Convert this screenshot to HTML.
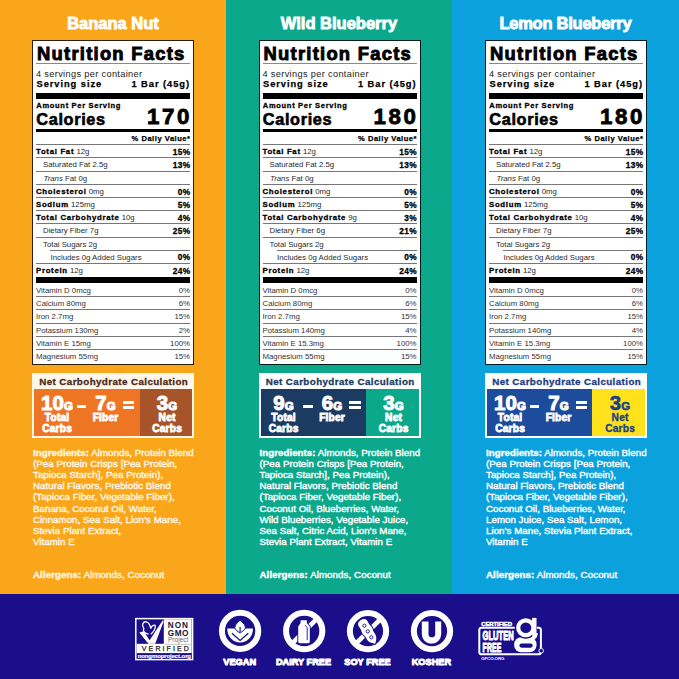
<!DOCTYPE html>
<html><head><meta charset="utf-8"><style>
html,body{margin:0;padding:0;width:679px;height:679px;overflow:hidden;background:#1B0E8B;}
body{position:relative;font-family:"Liberation Sans",sans-serif;}
.t{position:absolute;line-height:1em;white-space:pre;}
.r{position:absolute;}
b{font-weight:700;}
</style></head><body>
<div class=r style='left:0.00px;top:0.00px;width:226.00px;height:594.00px;background:#FAA61A;'></div><div class=r style='left:226.00px;top:0.00px;width:226.00px;height:594.00px;background:#0BA88C;'></div><div class=r style='left:452.00px;top:0.00px;width:227.00px;height:594.00px;background:#0AA1DD;'></div><div class=t style='top:15.03px;font-size:16.5px;font-weight:700;color:#FFFFFF;-webkit-text-stroke:0.9px #FFFFFF;left:-187.00px;width:600px;text-align:center;'>Banana Nut</div><div class=r style='left:32.00px;top:40.2px;width:160px;height:322.4px;background:#fff;background-clip:padding-box;border:1.2px solid rgba(0,0,0,0.82);'></div><div class=t style='top:44.62px;font-size:18.4px;font-weight:700;color:#000;letter-spacing:1.25px;-webkit-text-stroke:0.9px #000;left:37.00px;'>Nutrition Facts</div><div class=r style='left:36.00px;top:63.00px;width:154.00px;height:1.00px;background:#888;'></div><div class=t style='top:69.51px;font-size:9.2px;font-weight:400;color:#222;letter-spacing:0.35px;left:36.00px;'>4 servings per container</div><div class=t style='top:80.33px;font-size:9.3px;font-weight:700;color:#000;letter-spacing:0.95px;-webkit-text-stroke:0.25px #000;left:36.50px;'>Serving size</div><div class=t style='top:80.33px;font-size:9.3px;font-weight:700;color:#000;letter-spacing:0.95px;-webkit-text-stroke:0.25px #000;right:489.05px;text-align:right;'>1 Bar (45g)</div><div class=r style='left:36.00px;top:92.70px;width:154.00px;height:6.10px;background:#000;'></div><div class=t style='top:101.95px;font-size:7.5px;font-weight:700;color:#000;letter-spacing:0.7px;-webkit-text-stroke:0.3px #000;left:36.30px;'>Amount Per Serving</div><div class=t style='top:110.60px;font-size:16.3px;font-weight:700;color:#000;letter-spacing:0.65px;-webkit-text-stroke:0.6px #000;left:36.30px;'>Calories</div><div class=t style='top:105.92px;font-size:22.3px;font-weight:700;color:#000;letter-spacing:2.6px;-webkit-text-stroke:0.8px #000;right:486.90px;text-align:right;'>170</div><div class=r style='left:36.00px;top:129.00px;width:154.00px;height:2.50px;background:#000;'></div><div class=t style='top:135.05px;font-size:7.5px;font-weight:700;color:#000;letter-spacing:0.55px;-webkit-text-stroke:0.25px #000;right:488.45px;text-align:right;'>% Daily Value*</div><div class=r style='left:36.00px;top:144.20px;width:154.00px;height:1.00px;background:#777;'></div><div class=r style='left:36.00px;top:157.20px;width:154.00px;height:1.00px;background:#777;'></div><div class=r style='left:36.00px;top:171.00px;width:154.00px;height:1.00px;background:#777;'></div><div class=r style='left:36.00px;top:184.00px;width:154.00px;height:1.00px;background:#777;'></div><div class=r style='left:36.00px;top:197.20px;width:154.00px;height:1.00px;background:#777;'></div><div class=r style='left:36.00px;top:210.20px;width:154.00px;height:1.00px;background:#777;'></div><div class=r style='left:36.00px;top:223.00px;width:154.00px;height:1.00px;background:#777;'></div><div class=r style='left:36.00px;top:236.70px;width:154.00px;height:1.00px;background:#777;'></div><div class=r style='left:50.00px;top:249.60px;width:140.00px;height:1.00px;background:#777;'></div><div class=r style='left:36.00px;top:262.80px;width:154.00px;height:1.00px;background:#777;'></div><div class=r style='left:36.00px;top:276.90px;width:154.00px;height:5.80px;background:#000;'></div><div class=r style='left:36.00px;top:296.00px;width:154.00px;height:1.00px;background:#777;'></div><div class=r style='left:36.00px;top:308.70px;width:154.00px;height:1.00px;background:#777;'></div><div class=r style='left:36.00px;top:323.10px;width:154.00px;height:1.00px;background:#777;'></div><div class=r style='left:36.00px;top:335.80px;width:154.00px;height:1.00px;background:#777;'></div><div class=r style='left:36.00px;top:348.80px;width:154.00px;height:1.00px;background:#777;'></div><div class=t style='top:148.40px;font-size:7.8px;font-weight:400;color:#2a2a2a;left:36.00px;'><b style='letter-spacing:0.7px;-webkit-text-stroke:0.3px #000;color:#000'>Total Fat</b> 12g</div><div class=t style='top:147.97px;font-size:8.3px;font-weight:700;color:#000;letter-spacing:0.3px;-webkit-text-stroke:0.3px #000;right:488.70px;text-align:right;'>15%</div><div class=t style='top:161.40px;font-size:7.8px;font-weight:400;color:#2a2a2a;left:43.00px;'>Saturated Fat 2.5g</div><div class=t style='top:160.97px;font-size:8.3px;font-weight:700;color:#000;letter-spacing:0.3px;-webkit-text-stroke:0.3px #000;right:488.70px;text-align:right;'>13%</div><div class=t style='top:175.20px;font-size:7.8px;font-weight:400;color:#2a2a2a;left:43.50px;'><i>Trans</i> Fat 0g</div><div class=t style='top:188.20px;font-size:7.8px;font-weight:400;color:#2a2a2a;left:36.00px;'><b style='letter-spacing:0.7px;-webkit-text-stroke:0.3px #000;color:#000'>Cholesterol</b> 0mg</div><div class=t style='top:187.77px;font-size:8.3px;font-weight:700;color:#000;letter-spacing:0.3px;-webkit-text-stroke:0.3px #000;right:488.70px;text-align:right;'>0%</div><div class=t style='top:201.40px;font-size:7.8px;font-weight:400;color:#2a2a2a;left:36.00px;'><b style='letter-spacing:0.7px;-webkit-text-stroke:0.3px #000;color:#000'>Sodium</b> 125mg</div><div class=t style='top:200.97px;font-size:8.3px;font-weight:700;color:#000;letter-spacing:0.3px;-webkit-text-stroke:0.3px #000;right:488.70px;text-align:right;'>5%</div><div class=t style='top:214.40px;font-size:7.8px;font-weight:400;color:#2a2a2a;left:36.00px;'><b style='letter-spacing:0.7px;-webkit-text-stroke:0.3px #000;color:#000'>Total Carbohydrate</b> 10g</div><div class=t style='top:213.97px;font-size:8.3px;font-weight:700;color:#000;letter-spacing:0.3px;-webkit-text-stroke:0.3px #000;right:488.70px;text-align:right;'>4%</div><div class=t style='top:227.20px;font-size:7.8px;font-weight:400;color:#2a2a2a;left:43.00px;'>Dietary Fiber 7g</div><div class=t style='top:226.77px;font-size:8.3px;font-weight:700;color:#000;letter-spacing:0.3px;-webkit-text-stroke:0.3px #000;right:488.70px;text-align:right;'>25%</div><div class=t style='top:240.90px;font-size:7.8px;font-weight:400;color:#2a2a2a;left:43.00px;'>Total Sugars 2g</div><div class=t style='top:253.80px;font-size:7.8px;font-weight:400;color:#2a2a2a;left:50.50px;'>Includes 0g Added Sugars</div><div class=t style='top:253.37px;font-size:8.3px;font-weight:700;color:#000;letter-spacing:0.3px;-webkit-text-stroke:0.3px #000;right:488.70px;text-align:right;'>0%</div><div class=t style='top:267.00px;font-size:7.8px;font-weight:400;color:#2a2a2a;left:36.00px;'><b style='letter-spacing:0.7px;-webkit-text-stroke:0.3px #000;color:#000'>Protein</b> 12g</div><div class=t style='top:266.57px;font-size:8.3px;font-weight:700;color:#000;letter-spacing:0.3px;-webkit-text-stroke:0.3px #000;right:488.70px;text-align:right;'>24%</div><div class=t style='top:286.60px;font-size:7.8px;font-weight:400;color:#333;left:36.00px;'>Vitamin D 0mcg</div><div class=t style='top:286.60px;font-size:7.8px;font-weight:400;color:#333;right:489.00px;text-align:right;'>0%</div><div class=t style='top:299.90px;font-size:7.8px;font-weight:400;color:#333;left:36.00px;'>Calcium 80mg</div><div class=t style='top:299.90px;font-size:7.8px;font-weight:400;color:#333;right:489.00px;text-align:right;'>6%</div><div class=t style='top:312.60px;font-size:7.8px;font-weight:400;color:#333;left:36.00px;'>Iron 2.7mg</div><div class=t style='top:312.60px;font-size:7.8px;font-weight:400;color:#333;right:489.00px;text-align:right;'>15%</div><div class=t style='top:327.00px;font-size:7.8px;font-weight:400;color:#333;left:36.00px;'>Potassium 130mg</div><div class=t style='top:327.00px;font-size:7.8px;font-weight:400;color:#333;right:489.00px;text-align:right;'>2%</div><div class=t style='top:339.70px;font-size:7.8px;font-weight:400;color:#333;left:36.00px;'>Vitamin E 15mg</div><div class=t style='top:339.70px;font-size:7.8px;font-weight:400;color:#333;right:489.00px;text-align:right;'>100%</div><div class=t style='top:352.70px;font-size:7.8px;font-weight:400;color:#333;left:36.00px;'>Magnesium 55mg</div><div class=t style='top:352.70px;font-size:7.8px;font-weight:400;color:#333;right:489.00px;text-align:right;'>15%</div><div class=r style='left:32.00px;top:372.80px;width:162.00px;height:65.60px;background:#FFF7EA;'></div><div class=r style='left:34.10px;top:389.00px;width:158.30px;height:47.20px;background:#EE7524;'></div><div class=r style='left:140.00px;top:389.00px;width:52.40px;height:47.20px;background:#A7542A;'></div><div class=t style='top:376.90px;font-size:9.8px;font-weight:700;color:#4B2A1C;letter-spacing:0.4px;-webkit-text-stroke:0.3px #4B2A1C;left:-186.50px;width:600px;text-align:center;text-indent:0.4px;'>Net Carbohydrate Calculation</div><div class=t style='top:392.65px;font-size:20.5px;font-weight:700;color:#fff;-webkit-text-stroke:1.0px #fff;left:-243.00px;width:600px;text-align:center;'>10<span style='font-size:11.5px'>G</span></div><div class=t style='top:392.65px;font-size:20.5px;font-weight:700;color:#fff;-webkit-text-stroke:1.0px #fff;left:-194.50px;width:600px;text-align:center;'>7<span style='font-size:11.5px'>G</span></div><div class=r style='left:76.50px;top:404.90px;width:9.80px;height:2.80px;background:#fff;'></div><div class=r style='left:122.50px;top:401.20px;width:11.50px;height:3.00px;background:#fff;'></div><div class=r style='left:122.50px;top:406.40px;width:11.50px;height:3.00px;background:#fff;'></div><div class=t style='top:392.65px;font-size:20.5px;font-weight:700;color:#FFFFFF;-webkit-text-stroke:1.0px #FFFFFF;left:-133.00px;width:600px;text-align:center;'>3<span style='font-size:11.5px'>G</span></div><div class=t style='top:412.97px;font-size:10.2px;font-weight:700;color:#fff;letter-spacing:0.2px;-webkit-text-stroke:0.8px #fff;left:-243.00px;width:600px;text-align:center;text-indent:0.2px;'>Total</div><div class=t style='top:423.57px;font-size:10.2px;font-weight:700;color:#fff;letter-spacing:0.2px;-webkit-text-stroke:0.8px #fff;left:-243.00px;width:600px;text-align:center;text-indent:0.2px;'>Carbs</div><div class=t style='top:412.97px;font-size:10.2px;font-weight:700;color:#fff;letter-spacing:0.2px;-webkit-text-stroke:0.8px #fff;left:-194.50px;width:600px;text-align:center;text-indent:0.2px;'>Fiber</div><div class=t style='top:412.97px;font-size:10.2px;font-weight:700;color:#FFFFFF;letter-spacing:0.2px;-webkit-text-stroke:0.8px #FFFFFF;left:-133.00px;width:600px;text-align:center;text-indent:0.2px;'>Net</div><div class=t style='top:423.57px;font-size:10.2px;font-weight:700;color:#FFFFFF;letter-spacing:0.2px;-webkit-text-stroke:0.8px #FFFFFF;left:-133.00px;width:600px;text-align:center;text-indent:0.2px;'>Carbs</div><div class=t style='top:447.79px;font-size:9.7px;font-weight:400;color:#FFF6E4;letter-spacing:0.05px;-webkit-text-stroke:0.4px #FFF6E4;left:33.00px;'><b>Ingredients:</b> Almonds, Protein Blend</div><div class=t style='top:458.96px;font-size:9.7px;font-weight:400;color:#FFF6E4;letter-spacing:0.05px;-webkit-text-stroke:0.4px #FFF6E4;left:33.00px;'>(Pea Protein Crisps [Pea Protein,</div><div class=t style='top:470.13px;font-size:9.7px;font-weight:400;color:#FFF6E4;letter-spacing:0.05px;-webkit-text-stroke:0.4px #FFF6E4;left:33.00px;'>Tapioca Starch], Pea Protein),</div><div class=t style='top:481.30px;font-size:9.7px;font-weight:400;color:#FFF6E4;letter-spacing:0.05px;-webkit-text-stroke:0.4px #FFF6E4;left:33.00px;'>Natural Flavors, Prebiotic Blend</div><div class=t style='top:492.47px;font-size:9.7px;font-weight:400;color:#FFF6E4;letter-spacing:0.05px;-webkit-text-stroke:0.4px #FFF6E4;left:33.00px;'>(Tapioca Fiber, Vegetable Fiber),</div><div class=t style='top:503.64px;font-size:9.7px;font-weight:400;color:#FFF6E4;letter-spacing:0.05px;-webkit-text-stroke:0.4px #FFF6E4;left:33.00px;'>Banana, Coconut Oil, Water,</div><div class=t style='top:514.81px;font-size:9.7px;font-weight:400;color:#FFF6E4;letter-spacing:0.05px;-webkit-text-stroke:0.4px #FFF6E4;left:33.00px;'>Cinnamon, Sea Salt, Lion’s Mane,</div><div class=t style='top:525.98px;font-size:9.7px;font-weight:400;color:#FFF6E4;letter-spacing:0.05px;-webkit-text-stroke:0.4px #FFF6E4;left:33.00px;'>Stevia Plant Extract,</div><div class=t style='top:537.15px;font-size:9.7px;font-weight:400;color:#FFF6E4;letter-spacing:0.05px;-webkit-text-stroke:0.4px #FFF6E4;left:33.00px;'>Vitamin E</div><div class=t style='top:570.29px;font-size:9.7px;font-weight:400;color:#FFF6E4;letter-spacing:0.1px;-webkit-text-stroke:0.4px #FFF6E4;left:33.00px;'><b>Allergens:</b> Almonds, Coconut</div><div class=t style='top:15.03px;font-size:16.5px;font-weight:700;color:#FFFFFF;-webkit-text-stroke:0.9px #FFFFFF;left:39.00px;width:600px;text-align:center;'>Wild Blueberry</div><div class=r style='left:258.50px;top:40.2px;width:160px;height:322.4px;background:#fff;background-clip:padding-box;border:1.2px solid rgba(0,0,0,0.82);'></div><div class=t style='top:44.62px;font-size:18.4px;font-weight:700;color:#000;letter-spacing:1.25px;-webkit-text-stroke:0.9px #000;left:263.50px;'>Nutrition Facts</div><div class=r style='left:262.50px;top:63.00px;width:154.00px;height:1.00px;background:#888;'></div><div class=t style='top:69.51px;font-size:9.2px;font-weight:400;color:#222;letter-spacing:0.35px;left:262.50px;'>4 servings per container</div><div class=t style='top:80.33px;font-size:9.3px;font-weight:700;color:#000;letter-spacing:0.95px;-webkit-text-stroke:0.25px #000;left:263.00px;'>Serving size</div><div class=t style='top:80.33px;font-size:9.3px;font-weight:700;color:#000;letter-spacing:0.95px;-webkit-text-stroke:0.25px #000;right:262.55px;text-align:right;'>1 Bar (45g)</div><div class=r style='left:262.50px;top:92.70px;width:154.00px;height:6.10px;background:#000;'></div><div class=t style='top:101.95px;font-size:7.5px;font-weight:700;color:#000;letter-spacing:0.7px;-webkit-text-stroke:0.3px #000;left:262.80px;'>Amount Per Serving</div><div class=t style='top:110.60px;font-size:16.3px;font-weight:700;color:#000;letter-spacing:0.65px;-webkit-text-stroke:0.6px #000;left:262.80px;'>Calories</div><div class=t style='top:105.92px;font-size:22.3px;font-weight:700;color:#000;letter-spacing:2.6px;-webkit-text-stroke:0.8px #000;right:260.40px;text-align:right;'>180</div><div class=r style='left:262.50px;top:129.00px;width:154.00px;height:2.50px;background:#000;'></div><div class=t style='top:135.05px;font-size:7.5px;font-weight:700;color:#000;letter-spacing:0.55px;-webkit-text-stroke:0.25px #000;right:261.95px;text-align:right;'>% Daily Value*</div><div class=r style='left:262.50px;top:144.20px;width:154.00px;height:1.00px;background:#777;'></div><div class=r style='left:262.50px;top:157.20px;width:154.00px;height:1.00px;background:#777;'></div><div class=r style='left:262.50px;top:171.00px;width:154.00px;height:1.00px;background:#777;'></div><div class=r style='left:262.50px;top:184.00px;width:154.00px;height:1.00px;background:#777;'></div><div class=r style='left:262.50px;top:197.20px;width:154.00px;height:1.00px;background:#777;'></div><div class=r style='left:262.50px;top:210.20px;width:154.00px;height:1.00px;background:#777;'></div><div class=r style='left:262.50px;top:223.00px;width:154.00px;height:1.00px;background:#777;'></div><div class=r style='left:262.50px;top:236.70px;width:154.00px;height:1.00px;background:#777;'></div><div class=r style='left:276.50px;top:249.60px;width:140.00px;height:1.00px;background:#777;'></div><div class=r style='left:262.50px;top:262.80px;width:154.00px;height:1.00px;background:#777;'></div><div class=r style='left:262.50px;top:276.90px;width:154.00px;height:5.80px;background:#000;'></div><div class=r style='left:262.50px;top:296.00px;width:154.00px;height:1.00px;background:#777;'></div><div class=r style='left:262.50px;top:308.70px;width:154.00px;height:1.00px;background:#777;'></div><div class=r style='left:262.50px;top:323.10px;width:154.00px;height:1.00px;background:#777;'></div><div class=r style='left:262.50px;top:335.80px;width:154.00px;height:1.00px;background:#777;'></div><div class=r style='left:262.50px;top:348.80px;width:154.00px;height:1.00px;background:#777;'></div><div class=t style='top:148.40px;font-size:7.8px;font-weight:400;color:#2a2a2a;left:262.50px;'><b style='letter-spacing:0.7px;-webkit-text-stroke:0.3px #000;color:#000'>Total Fat</b> 12g</div><div class=t style='top:147.97px;font-size:8.3px;font-weight:700;color:#000;letter-spacing:0.3px;-webkit-text-stroke:0.3px #000;right:262.20px;text-align:right;'>15%</div><div class=t style='top:161.40px;font-size:7.8px;font-weight:400;color:#2a2a2a;left:269.50px;'>Saturated Fat 2.5g</div><div class=t style='top:160.97px;font-size:8.3px;font-weight:700;color:#000;letter-spacing:0.3px;-webkit-text-stroke:0.3px #000;right:262.20px;text-align:right;'>13%</div><div class=t style='top:175.20px;font-size:7.8px;font-weight:400;color:#2a2a2a;left:270.00px;'><i>Trans</i> Fat 0g</div><div class=t style='top:188.20px;font-size:7.8px;font-weight:400;color:#2a2a2a;left:262.50px;'><b style='letter-spacing:0.7px;-webkit-text-stroke:0.3px #000;color:#000'>Cholesterol</b> 0mg</div><div class=t style='top:187.77px;font-size:8.3px;font-weight:700;color:#000;letter-spacing:0.3px;-webkit-text-stroke:0.3px #000;right:262.20px;text-align:right;'>0%</div><div class=t style='top:201.40px;font-size:7.8px;font-weight:400;color:#2a2a2a;left:262.50px;'><b style='letter-spacing:0.7px;-webkit-text-stroke:0.3px #000;color:#000'>Sodium</b> 125mg</div><div class=t style='top:200.97px;font-size:8.3px;font-weight:700;color:#000;letter-spacing:0.3px;-webkit-text-stroke:0.3px #000;right:262.20px;text-align:right;'>5%</div><div class=t style='top:214.40px;font-size:7.8px;font-weight:400;color:#2a2a2a;left:262.50px;'><b style='letter-spacing:0.7px;-webkit-text-stroke:0.3px #000;color:#000'>Total Carbohydrate</b> 9g</div><div class=t style='top:213.97px;font-size:8.3px;font-weight:700;color:#000;letter-spacing:0.3px;-webkit-text-stroke:0.3px #000;right:262.20px;text-align:right;'>3%</div><div class=t style='top:227.20px;font-size:7.8px;font-weight:400;color:#2a2a2a;left:269.50px;'>Dietary Fiber 6g</div><div class=t style='top:226.77px;font-size:8.3px;font-weight:700;color:#000;letter-spacing:0.3px;-webkit-text-stroke:0.3px #000;right:262.20px;text-align:right;'>21%</div><div class=t style='top:240.90px;font-size:7.8px;font-weight:400;color:#2a2a2a;left:269.50px;'>Total Sugars 2g</div><div class=t style='top:253.80px;font-size:7.8px;font-weight:400;color:#2a2a2a;left:277.00px;'>Includes 0g Added Sugars</div><div class=t style='top:253.37px;font-size:8.3px;font-weight:700;color:#000;letter-spacing:0.3px;-webkit-text-stroke:0.3px #000;right:262.20px;text-align:right;'>0%</div><div class=t style='top:267.00px;font-size:7.8px;font-weight:400;color:#2a2a2a;left:262.50px;'><b style='letter-spacing:0.7px;-webkit-text-stroke:0.3px #000;color:#000'>Protein</b> 12g</div><div class=t style='top:266.57px;font-size:8.3px;font-weight:700;color:#000;letter-spacing:0.3px;-webkit-text-stroke:0.3px #000;right:262.20px;text-align:right;'>24%</div><div class=t style='top:286.60px;font-size:7.8px;font-weight:400;color:#333;left:262.50px;'>Vitamin D 0mcg</div><div class=t style='top:286.60px;font-size:7.8px;font-weight:400;color:#333;right:262.50px;text-align:right;'>0%</div><div class=t style='top:299.90px;font-size:7.8px;font-weight:400;color:#333;left:262.50px;'>Calcium 80mg</div><div class=t style='top:299.90px;font-size:7.8px;font-weight:400;color:#333;right:262.50px;text-align:right;'>6%</div><div class=t style='top:312.60px;font-size:7.8px;font-weight:400;color:#333;left:262.50px;'>Iron 2.7mg</div><div class=t style='top:312.60px;font-size:7.8px;font-weight:400;color:#333;right:262.50px;text-align:right;'>15%</div><div class=t style='top:327.00px;font-size:7.8px;font-weight:400;color:#333;left:262.50px;'>Potassium 140mg</div><div class=t style='top:327.00px;font-size:7.8px;font-weight:400;color:#333;right:262.50px;text-align:right;'>4%</div><div class=t style='top:339.70px;font-size:7.8px;font-weight:400;color:#333;left:262.50px;'>Vitamin E 15.3mg</div><div class=t style='top:339.70px;font-size:7.8px;font-weight:400;color:#333;right:262.50px;text-align:right;'>100%</div><div class=t style='top:352.70px;font-size:7.8px;font-weight:400;color:#333;left:262.50px;'>Magnesium 55mg</div><div class=t style='top:352.70px;font-size:7.8px;font-weight:400;color:#333;right:262.50px;text-align:right;'>15%</div><div class=r style='left:258.50px;top:372.80px;width:162.00px;height:65.60px;background:#FFFFFF;'></div><div class=r style='left:260.60px;top:389.00px;width:158.30px;height:47.20px;background:#1C3B62;'></div><div class=r style='left:366.40px;top:389.00px;width:52.50px;height:47.20px;background:#0BA88C;'></div><div class=t style='top:376.90px;font-size:9.8px;font-weight:700;color:#1C3B62;letter-spacing:0.4px;-webkit-text-stroke:0.3px #1C3B62;left:40.00px;width:600px;text-align:center;text-indent:0.4px;'>Net Carbohydrate Calculation</div><div class=t style='top:392.65px;font-size:20.5px;font-weight:700;color:#fff;-webkit-text-stroke:1.0px #fff;left:-16.50px;width:600px;text-align:center;'>9<span style='font-size:11.5px'>G</span></div><div class=t style='top:392.65px;font-size:20.5px;font-weight:700;color:#fff;-webkit-text-stroke:1.0px #fff;left:32.00px;width:600px;text-align:center;'>6<span style='font-size:11.5px'>G</span></div><div class=r style='left:303.00px;top:404.90px;width:9.80px;height:2.80px;background:#fff;'></div><div class=r style='left:349.00px;top:401.20px;width:11.50px;height:3.00px;background:#fff;'></div><div class=r style='left:349.00px;top:406.40px;width:11.50px;height:3.00px;background:#fff;'></div><div class=t style='top:392.65px;font-size:20.5px;font-weight:700;color:#FFFFFF;-webkit-text-stroke:1.0px #FFFFFF;left:93.50px;width:600px;text-align:center;'>3<span style='font-size:11.5px'>G</span></div><div class=t style='top:412.97px;font-size:10.2px;font-weight:700;color:#fff;letter-spacing:0.2px;-webkit-text-stroke:0.8px #fff;left:-16.50px;width:600px;text-align:center;text-indent:0.2px;'>Total</div><div class=t style='top:423.57px;font-size:10.2px;font-weight:700;color:#fff;letter-spacing:0.2px;-webkit-text-stroke:0.8px #fff;left:-16.50px;width:600px;text-align:center;text-indent:0.2px;'>Carbs</div><div class=t style='top:412.97px;font-size:10.2px;font-weight:700;color:#fff;letter-spacing:0.2px;-webkit-text-stroke:0.8px #fff;left:32.00px;width:600px;text-align:center;text-indent:0.2px;'>Fiber</div><div class=t style='top:412.97px;font-size:10.2px;font-weight:700;color:#FFFFFF;letter-spacing:0.2px;-webkit-text-stroke:0.8px #FFFFFF;left:93.50px;width:600px;text-align:center;text-indent:0.2px;'>Net</div><div class=t style='top:423.57px;font-size:10.2px;font-weight:700;color:#FFFFFF;letter-spacing:0.2px;-webkit-text-stroke:0.8px #FFFFFF;left:93.50px;width:600px;text-align:center;text-indent:0.2px;'>Carbs</div><div class=t style='top:447.79px;font-size:9.7px;font-weight:400;color:#FFFFFF;letter-spacing:0.05px;-webkit-text-stroke:0.4px #FFFFFF;left:259.50px;'><b>Ingredients:</b> Almonds, Protein Blend</div><div class=t style='top:458.96px;font-size:9.7px;font-weight:400;color:#FFFFFF;letter-spacing:0.05px;-webkit-text-stroke:0.4px #FFFFFF;left:259.50px;'>(Pea Protein Crisps [Pea Protein,</div><div class=t style='top:470.13px;font-size:9.7px;font-weight:400;color:#FFFFFF;letter-spacing:0.05px;-webkit-text-stroke:0.4px #FFFFFF;left:259.50px;'>Tapioca Starch], Pea Protein),</div><div class=t style='top:481.30px;font-size:9.7px;font-weight:400;color:#FFFFFF;letter-spacing:0.05px;-webkit-text-stroke:0.4px #FFFFFF;left:259.50px;'>Natural Flavors, Prebiotic Blend</div><div class=t style='top:492.47px;font-size:9.7px;font-weight:400;color:#FFFFFF;letter-spacing:0.05px;-webkit-text-stroke:0.4px #FFFFFF;left:259.50px;'>(Tapioca Fiber, Vegetable Fiber),</div><div class=t style='top:503.64px;font-size:9.7px;font-weight:400;color:#FFFFFF;letter-spacing:0.05px;-webkit-text-stroke:0.4px #FFFFFF;left:259.50px;'>Coconut Oil, Blueberries, Water,</div><div class=t style='top:514.81px;font-size:9.7px;font-weight:400;color:#FFFFFF;letter-spacing:0.05px;-webkit-text-stroke:0.4px #FFFFFF;left:259.50px;'>Wild Blueberries, Vegetable Juice,</div><div class=t style='top:525.98px;font-size:9.7px;font-weight:400;color:#FFFFFF;letter-spacing:0.05px;-webkit-text-stroke:0.4px #FFFFFF;left:259.50px;'>Sea Salt, Citric Acid, Lion’s Mane,</div><div class=t style='top:537.15px;font-size:9.7px;font-weight:400;color:#FFFFFF;letter-spacing:0.05px;-webkit-text-stroke:0.4px #FFFFFF;left:259.50px;'>Stevia Plant Extract, Vitamin E</div><div class=t style='top:570.29px;font-size:9.7px;font-weight:400;color:#FFFFFF;letter-spacing:0.1px;-webkit-text-stroke:0.4px #FFFFFF;left:259.50px;'><b>Allergens:</b> Almonds, Coconut</div><div class=t style='top:15.03px;font-size:16.5px;font-weight:700;color:#FFFFFF;letter-spacing:-0.25px;-webkit-text-stroke:0.9px #FFFFFF;left:265.50px;width:600px;text-align:center;text-indent:-0.25px;'>Lemon Blueberry</div><div class=r style='left:485.00px;top:40.2px;width:160px;height:322.4px;background:#fff;background-clip:padding-box;border:1.2px solid rgba(0,0,0,0.82);'></div><div class=t style='top:44.62px;font-size:18.4px;font-weight:700;color:#000;letter-spacing:1.25px;-webkit-text-stroke:0.9px #000;left:490.00px;'>Nutrition Facts</div><div class=r style='left:489.00px;top:63.00px;width:154.00px;height:1.00px;background:#888;'></div><div class=t style='top:69.51px;font-size:9.2px;font-weight:400;color:#222;letter-spacing:0.35px;left:489.00px;'>4 servings per container</div><div class=t style='top:80.33px;font-size:9.3px;font-weight:700;color:#000;letter-spacing:0.95px;-webkit-text-stroke:0.25px #000;left:489.50px;'>Serving size</div><div class=t style='top:80.33px;font-size:9.3px;font-weight:700;color:#000;letter-spacing:0.95px;-webkit-text-stroke:0.25px #000;right:36.05px;text-align:right;'>1 Bar (45g)</div><div class=r style='left:489.00px;top:92.70px;width:154.00px;height:6.10px;background:#000;'></div><div class=t style='top:101.95px;font-size:7.5px;font-weight:700;color:#000;letter-spacing:0.7px;-webkit-text-stroke:0.3px #000;left:489.30px;'>Amount Per Serving</div><div class=t style='top:110.60px;font-size:16.3px;font-weight:700;color:#000;letter-spacing:0.65px;-webkit-text-stroke:0.6px #000;left:489.30px;'>Calories</div><div class=t style='top:105.92px;font-size:22.3px;font-weight:700;color:#000;letter-spacing:2.6px;-webkit-text-stroke:0.8px #000;right:33.90px;text-align:right;'>180</div><div class=r style='left:489.00px;top:129.00px;width:154.00px;height:2.50px;background:#000;'></div><div class=t style='top:135.05px;font-size:7.5px;font-weight:700;color:#000;letter-spacing:0.55px;-webkit-text-stroke:0.25px #000;right:35.45px;text-align:right;'>% Daily Value*</div><div class=r style='left:489.00px;top:144.20px;width:154.00px;height:1.00px;background:#777;'></div><div class=r style='left:489.00px;top:157.20px;width:154.00px;height:1.00px;background:#777;'></div><div class=r style='left:489.00px;top:171.00px;width:154.00px;height:1.00px;background:#777;'></div><div class=r style='left:489.00px;top:184.00px;width:154.00px;height:1.00px;background:#777;'></div><div class=r style='left:489.00px;top:197.20px;width:154.00px;height:1.00px;background:#777;'></div><div class=r style='left:489.00px;top:210.20px;width:154.00px;height:1.00px;background:#777;'></div><div class=r style='left:489.00px;top:223.00px;width:154.00px;height:1.00px;background:#777;'></div><div class=r style='left:489.00px;top:236.70px;width:154.00px;height:1.00px;background:#777;'></div><div class=r style='left:503.00px;top:249.60px;width:140.00px;height:1.00px;background:#777;'></div><div class=r style='left:489.00px;top:262.80px;width:154.00px;height:1.00px;background:#777;'></div><div class=r style='left:489.00px;top:276.90px;width:154.00px;height:5.80px;background:#000;'></div><div class=r style='left:489.00px;top:296.00px;width:154.00px;height:1.00px;background:#777;'></div><div class=r style='left:489.00px;top:308.70px;width:154.00px;height:1.00px;background:#777;'></div><div class=r style='left:489.00px;top:323.10px;width:154.00px;height:1.00px;background:#777;'></div><div class=r style='left:489.00px;top:335.80px;width:154.00px;height:1.00px;background:#777;'></div><div class=r style='left:489.00px;top:348.80px;width:154.00px;height:1.00px;background:#777;'></div><div class=t style='top:148.40px;font-size:7.8px;font-weight:400;color:#2a2a2a;left:489.00px;'><b style='letter-spacing:0.7px;-webkit-text-stroke:0.3px #000;color:#000'>Total Fat</b> 12g</div><div class=t style='top:147.97px;font-size:8.3px;font-weight:700;color:#000;letter-spacing:0.3px;-webkit-text-stroke:0.3px #000;right:35.70px;text-align:right;'>15%</div><div class=t style='top:161.40px;font-size:7.8px;font-weight:400;color:#2a2a2a;left:496.00px;'>Saturated Fat 2.5g</div><div class=t style='top:160.97px;font-size:8.3px;font-weight:700;color:#000;letter-spacing:0.3px;-webkit-text-stroke:0.3px #000;right:35.70px;text-align:right;'>13%</div><div class=t style='top:175.20px;font-size:7.8px;font-weight:400;color:#2a2a2a;left:496.50px;'><i>Trans</i> Fat 0g</div><div class=t style='top:188.20px;font-size:7.8px;font-weight:400;color:#2a2a2a;left:489.00px;'><b style='letter-spacing:0.7px;-webkit-text-stroke:0.3px #000;color:#000'>Cholesterol</b> 0mg</div><div class=t style='top:187.77px;font-size:8.3px;font-weight:700;color:#000;letter-spacing:0.3px;-webkit-text-stroke:0.3px #000;right:35.70px;text-align:right;'>0%</div><div class=t style='top:201.40px;font-size:7.8px;font-weight:400;color:#2a2a2a;left:489.00px;'><b style='letter-spacing:0.7px;-webkit-text-stroke:0.3px #000;color:#000'>Sodium</b> 125mg</div><div class=t style='top:200.97px;font-size:8.3px;font-weight:700;color:#000;letter-spacing:0.3px;-webkit-text-stroke:0.3px #000;right:35.70px;text-align:right;'>5%</div><div class=t style='top:214.40px;font-size:7.8px;font-weight:400;color:#2a2a2a;left:489.00px;'><b style='letter-spacing:0.7px;-webkit-text-stroke:0.3px #000;color:#000'>Total Carbohydrate</b> 10g</div><div class=t style='top:213.97px;font-size:8.3px;font-weight:700;color:#000;letter-spacing:0.3px;-webkit-text-stroke:0.3px #000;right:35.70px;text-align:right;'>4%</div><div class=t style='top:227.20px;font-size:7.8px;font-weight:400;color:#2a2a2a;left:496.00px;'>Dietary Fiber 7g</div><div class=t style='top:226.77px;font-size:8.3px;font-weight:700;color:#000;letter-spacing:0.3px;-webkit-text-stroke:0.3px #000;right:35.70px;text-align:right;'>25%</div><div class=t style='top:240.90px;font-size:7.8px;font-weight:400;color:#2a2a2a;left:496.00px;'>Total Sugars 2g</div><div class=t style='top:253.80px;font-size:7.8px;font-weight:400;color:#2a2a2a;left:503.50px;'>Includes 0g Added Sugars</div><div class=t style='top:253.37px;font-size:8.3px;font-weight:700;color:#000;letter-spacing:0.3px;-webkit-text-stroke:0.3px #000;right:35.70px;text-align:right;'>0%</div><div class=t style='top:267.00px;font-size:7.8px;font-weight:400;color:#2a2a2a;left:489.00px;'><b style='letter-spacing:0.7px;-webkit-text-stroke:0.3px #000;color:#000'>Protein</b> 12g</div><div class=t style='top:266.57px;font-size:8.3px;font-weight:700;color:#000;letter-spacing:0.3px;-webkit-text-stroke:0.3px #000;right:35.70px;text-align:right;'>24%</div><div class=t style='top:286.60px;font-size:7.8px;font-weight:400;color:#333;left:489.00px;'>Vitamin D 0mcg</div><div class=t style='top:286.60px;font-size:7.8px;font-weight:400;color:#333;right:36.00px;text-align:right;'>0%</div><div class=t style='top:299.90px;font-size:7.8px;font-weight:400;color:#333;left:489.00px;'>Calcium 80mg</div><div class=t style='top:299.90px;font-size:7.8px;font-weight:400;color:#333;right:36.00px;text-align:right;'>6%</div><div class=t style='top:312.60px;font-size:7.8px;font-weight:400;color:#333;left:489.00px;'>Iron 2.7mg</div><div class=t style='top:312.60px;font-size:7.8px;font-weight:400;color:#333;right:36.00px;text-align:right;'>15%</div><div class=t style='top:327.00px;font-size:7.8px;font-weight:400;color:#333;left:489.00px;'>Potassium 140mg</div><div class=t style='top:327.00px;font-size:7.8px;font-weight:400;color:#333;right:36.00px;text-align:right;'>4%</div><div class=t style='top:339.70px;font-size:7.8px;font-weight:400;color:#333;left:489.00px;'>Vitamin E 15.3mg</div><div class=t style='top:339.70px;font-size:7.8px;font-weight:400;color:#333;right:36.00px;text-align:right;'>100%</div><div class=t style='top:352.70px;font-size:7.8px;font-weight:400;color:#333;left:489.00px;'>Magnesium 55mg</div><div class=t style='top:352.70px;font-size:7.8px;font-weight:400;color:#333;right:36.00px;text-align:right;'>15%</div><div class=r style='left:485.00px;top:372.80px;width:162.00px;height:65.60px;background:#FFFFFF;'></div><div class=r style='left:487.10px;top:389.00px;width:158.30px;height:47.20px;background:#1E4C9C;'></div><div class=r style='left:591.80px;top:389.00px;width:53.60px;height:47.20px;background:#FFE21C;'></div><div class=t style='top:376.90px;font-size:9.8px;font-weight:700;color:#1D3D82;letter-spacing:0.4px;-webkit-text-stroke:0.3px #1D3D82;left:266.50px;width:600px;text-align:center;text-indent:0.4px;'>Net Carbohydrate Calculation</div><div class=t style='top:392.65px;font-size:20.5px;font-weight:700;color:#fff;-webkit-text-stroke:1.0px #fff;left:210.00px;width:600px;text-align:center;'>10<span style='font-size:11.5px'>G</span></div><div class=t style='top:392.65px;font-size:20.5px;font-weight:700;color:#fff;-webkit-text-stroke:1.0px #fff;left:258.50px;width:600px;text-align:center;'>7<span style='font-size:11.5px'>G</span></div><div class=r style='left:529.50px;top:404.90px;width:9.80px;height:2.80px;background:#fff;'></div><div class=r style='left:575.50px;top:401.20px;width:11.50px;height:3.00px;background:#fff;'></div><div class=r style='left:575.50px;top:406.40px;width:11.50px;height:3.00px;background:#fff;'></div><div class=t style='top:392.65px;font-size:20.5px;font-weight:700;color:#1D3F8A;-webkit-text-stroke:0.55px #1D3F8A;left:320.00px;width:600px;text-align:center;'>3<span style='font-size:11.5px'>G</span></div><div class=t style='top:412.97px;font-size:10.2px;font-weight:700;color:#fff;letter-spacing:0.2px;-webkit-text-stroke:0.8px #fff;left:210.00px;width:600px;text-align:center;text-indent:0.2px;'>Total</div><div class=t style='top:423.57px;font-size:10.2px;font-weight:700;color:#fff;letter-spacing:0.2px;-webkit-text-stroke:0.8px #fff;left:210.00px;width:600px;text-align:center;text-indent:0.2px;'>Carbs</div><div class=t style='top:412.97px;font-size:10.2px;font-weight:700;color:#fff;letter-spacing:0.2px;-webkit-text-stroke:0.8px #fff;left:258.50px;width:600px;text-align:center;text-indent:0.2px;'>Fiber</div><div class=t style='top:412.97px;font-size:10.2px;font-weight:700;color:#1D3F8A;letter-spacing:0.2px;-webkit-text-stroke:0.35px #1D3F8A;left:320.00px;width:600px;text-align:center;text-indent:0.2px;'>Net</div><div class=t style='top:423.57px;font-size:10.2px;font-weight:700;color:#1D3F8A;letter-spacing:0.2px;-webkit-text-stroke:0.35px #1D3F8A;left:320.00px;width:600px;text-align:center;text-indent:0.2px;'>Carbs</div><div class=t style='top:447.79px;font-size:9.7px;font-weight:400;color:#FFFFFF;letter-spacing:0.05px;-webkit-text-stroke:0.4px #FFFFFF;left:486.00px;'><b>Ingredients:</b> Almonds, Protein Blend</div><div class=t style='top:458.96px;font-size:9.7px;font-weight:400;color:#FFFFFF;letter-spacing:0.05px;-webkit-text-stroke:0.4px #FFFFFF;left:486.00px;'>(Pea Protein Crisps [Pea Protein,</div><div class=t style='top:470.13px;font-size:9.7px;font-weight:400;color:#FFFFFF;letter-spacing:0.05px;-webkit-text-stroke:0.4px #FFFFFF;left:486.00px;'>Tapioca Starch], Pea Protein),</div><div class=t style='top:481.30px;font-size:9.7px;font-weight:400;color:#FFFFFF;letter-spacing:0.05px;-webkit-text-stroke:0.4px #FFFFFF;left:486.00px;'>Natural Flavors, Prebiotic Blend</div><div class=t style='top:492.47px;font-size:9.7px;font-weight:400;color:#FFFFFF;letter-spacing:0.05px;-webkit-text-stroke:0.4px #FFFFFF;left:486.00px;'>(Tapioca Fiber, Vegetable Fiber),</div><div class=t style='top:503.64px;font-size:9.7px;font-weight:400;color:#FFFFFF;letter-spacing:0.05px;-webkit-text-stroke:0.4px #FFFFFF;left:486.00px;'>Coconut Oil, Blueberries, Water,</div><div class=t style='top:514.81px;font-size:9.7px;font-weight:400;color:#FFFFFF;letter-spacing:0.05px;-webkit-text-stroke:0.4px #FFFFFF;left:486.00px;'>Lemon Juice, Sea Salt, Lemon,</div><div class=t style='top:525.98px;font-size:9.7px;font-weight:400;color:#FFFFFF;letter-spacing:0.05px;-webkit-text-stroke:0.4px #FFFFFF;left:486.00px;'>Lion’s Mane, Stevia Plant Extract,</div><div class=t style='top:537.15px;font-size:9.7px;font-weight:400;color:#FFFFFF;letter-spacing:0.05px;-webkit-text-stroke:0.4px #FFFFFF;left:486.00px;'>Vitamin E</div><div class=t style='top:570.29px;font-size:9.7px;font-weight:400;color:#FFFFFF;letter-spacing:0.1px;-webkit-text-stroke:0.4px #FFFFFF;left:486.00px;'><b>Allergens:</b> Almonds, Coconut</div><div class=r style='left:0.00px;top:594.00px;width:679.00px;height:85.00px;background:#1B0E8B;'></div><svg style="position:absolute;left:0;top:0" width="679" height="679" viewBox="0 0 679 679">
<defs><style>.bt{font-family:"Liberation Sans",sans-serif;font-weight:700;fill:#fff;}</style></defs>
<!-- NON GMO -->
<rect x="135.8" y="618.6" width="56.8" height="41" fill="none" stroke="#fff" stroke-width="1.5"/>
<rect x="163.8" y="619.3" width="27.8" height="25" fill="#fff"/>
<rect x="136.6" y="643.8" width="55" height="9.3" fill="#fff"/>
<line x1="165" y1="644.4" x2="190.5" y2="644.4" stroke="#999" stroke-width="0.6"/>
<path d="M139.3,632.4 L143.8,631.2 L149.6,640.2 L162.6,620.6 L163.6,621.6 L155.2,643.8 L148.4,643.8 Z" fill="#fff"/>
<path d="M148.6,634.2 C144.2,633.6 142.6,630.6 143.8,628.4 C141.6,625.6 142.4,621.2 146.2,621.8 C149.4,622.4 150.4,626.4 150.8,628.6 C151.6,626.2 153.2,624.6 155.2,625.4 C155.6,628.6 153.8,631.8 150.8,634.2" fill="none" stroke="#fff" stroke-width="1.3"/>
<text x="178.3" y="627.9" font-size="8.2" text-anchor="middle" style="font-family:'Liberation Sans',sans-serif;font-weight:700;fill:#15153a;letter-spacing:0.9px">NON</text>
<text x="178.3" y="635.5" font-size="8.2" text-anchor="middle" style="font-family:'Liberation Sans',sans-serif;font-weight:700;fill:#15153a;letter-spacing:0.5px">GMO</text>
<text x="178.2" y="641.9" font-size="6.4" text-anchor="middle" style="font-family:'Liberation Sans',sans-serif;font-weight:400;fill:#666677;letter-spacing:0.1px">Project</text>
<text x="166.4" y="651.3" font-size="7" text-anchor="middle" style="font-family:'Liberation Sans',sans-serif;font-weight:400;fill:#222;letter-spacing:2.1px" stroke="#222" stroke-width="0.25">VERIFIED</text>
<text x="164.3" y="658.4" font-size="6" text-anchor="middle" class="bt" style="letter-spacing:-0.1px" stroke="#fff" stroke-width="0.2">nongmoproject.org</text>

<!-- VEGAN -->
<circle cx="240.1" cy="630.9" r="18.15" fill="none" stroke="#fff" stroke-width="6"/>
<path d="M227.2,628.6 L253,628.6 C253,636.8 247.2,642.6 240.1,642.6 C233,642.6 227.2,636.8 227.2,628.6 Z" fill="#fff"/>
<path d="M240.1,620.2 Q245.8,624.4 245.6,628 Q243.6,631.2 240.1,633 Q236.6,631.2 234.6,628 Q234.4,624.4 240.1,620.2 Z" fill="#fff" stroke="#1B0E8B" stroke-width="1"/>
<path d="M231.9,633.3 L240.1,640.4 L248.3,633.3" fill="none" stroke="#1B0E8B" stroke-width="1.3"/>
<line x1="240.1" y1="627" x2="240.1" y2="632" stroke="#1B0E8B" stroke-width="1.2"/>
<text x="239.7" y="665.4" font-size="9.2" text-anchor="middle" class="bt" style="" stroke="#fff" stroke-width="0.95" stroke-linejoin="round">VEGAN</text>

<!-- DAIRY FREE -->
<circle cx="304.2" cy="631.0" r="18.15" fill="none" stroke="#fff" stroke-width="6"/>
<line x1="316.8" y1="618.8" x2="291.6" y2="644" stroke="#fff" stroke-width="4.6"/>
<path d="M300.6,620.3 H306.8 V623 L309.8,626.5 V641.4 Q309.8,643.3 307.9,643.3 H300.1 Q298.2,643.3 298.2,641.4 V626.5 L300.6,623 Z" fill="#fff" stroke="#1B0E8B" stroke-width="1.8" paint-order="stroke"/>
<path d="M305.1,625.2 L307.2,627.8 V640.2" fill="none" stroke="#1B0E8B" stroke-width="0.9"/>
<text x="303.5" y="665.4" font-size="9.2" text-anchor="middle" class="bt" style="" stroke="#fff" stroke-width="0.95" stroke-linejoin="round">DAIRY FREE</text>

<!-- SOY FREE -->
<circle cx="368" cy="631.1" r="18.15" fill="none" stroke="#fff" stroke-width="6"/>
<line x1="380.6" y1="619" x2="355.4" y2="644.2" stroke="#fff" stroke-width="4.6"/>
<g transform="rotate(59 367.8 631.4)">
<path d="M354.4,631.4 C354.4,626.6 357.6,626 360.4,626.4 C362.6,626.8 363.6,626.2 365.6,625.8 C367.8,625.4 369.6,626.6 371.4,626.6 C373.8,626.6 376.4,626 379.4,628.6 C381.6,630.6 382.2,631.4 382.2,631.4 C382.2,631.4 381.6,632.2 379.4,634.2 C376.4,636.8 373.8,636.2 371.4,636.2 C369.6,636.2 367.8,637.4 365.6,637 C363.6,636.6 362.6,636 360.4,636.4 C357.6,636.8 354.4,636.2 354.4,631.4 Z" fill="#fff" stroke="#1B0E8B" stroke-width="2" paint-order="stroke"/>
</g>
<circle cx="364.4" cy="625.7" r="1.6" fill="#fff" stroke="#1B0E8B" stroke-width="0.9"/>
<circle cx="367.8" cy="631.4" r="1.6" fill="#fff" stroke="#1B0E8B" stroke-width="0.9"/>
<circle cx="371.3" cy="637.3" r="1.6" fill="#fff" stroke="#1B0E8B" stroke-width="0.9"/>
<text x="367.5" y="665.4" font-size="9.2" text-anchor="middle" class="bt" style="" stroke="#fff" stroke-width="0.95" stroke-linejoin="round">SOY FREE</text>

<!-- KOSHER -->
<circle cx="432" cy="631.1" r="18.15" fill="none" stroke="#fff" stroke-width="6"/>
<path d="M421.8,621.5 H428.5 V634 A3.35,3.35 0 0 0 435.2,634 V621.5 H441.2 V634.1 A9.7,9.7 0 0 1 421.8,634.1 Z" fill="#fff"/>
<text x="431.4" y="665.4" font-size="9.2" text-anchor="middle" class="bt" style="" stroke="#fff" stroke-width="0.95" stroke-linejoin="round">KOSHER</text>

<!-- GLUTEN FREE -->
<text x="481.2" y="625.6" font-size="6" class="bt" style="letter-spacing:-0.1px" stroke="#fff" stroke-width="0.45" stroke-linejoin="round">CERTIFIED</text>
<rect x="479.3" y="627.7" width="61.6" height="26.6" rx="2.4" fill="none" stroke="#fff" stroke-width="2"/>
<g transform="translate(482.6 640.3) scale(0.56 1)"><text x="0" y="0" font-size="13.5" class="bt" style="" stroke="#fff" stroke-width="1.1" stroke-linejoin="round">GLUTEN</text></g>
<g transform="translate(482.6 651.7) scale(0.52 1)"><text x="0" y="0" font-size="13.5" class="bt" style="" stroke="#fff" stroke-width="1.1" stroke-linejoin="round">FREE</text></g>
<rect x="514.2" y="637.3" width="22.3" height="14.9" rx="7" fill="#fff" stroke="#1B0E8B" stroke-width="1.6" paint-order="stroke"/>
<rect x="519.4" y="643.4" width="13.3" height="4.3" rx="2.1" fill="#1B0E8B"/>
<ellipse cx="525.8" cy="627.8" rx="7.6" ry="7.4" fill="none" stroke="#1B0E8B" stroke-width="7"/>
<path d="M532.2,617.9 H536.3 V636 L533,638 Z" fill="#fff" stroke="#1B0E8B" stroke-width="1.4" paint-order="stroke"/>
<ellipse cx="525.8" cy="627.8" rx="7.6" ry="7.4" fill="#1B0E8B" stroke="#fff" stroke-width="4.2"/>
<rect x="532.2" y="617.9" width="4.1" height="19" fill="#fff"/>
<path d="M536.3,633 C536.3,637 534,638.6 531,638.6" fill="none" stroke="#fff" stroke-width="3"/>
<circle cx="541.2" cy="650.8" r="2.3" fill="#1B0E8B" stroke="#fff" stroke-width="0.9"/>
<text x="481.2" y="660.4" font-size="4.4" class="bt" style="letter-spacing:-0.1px">GFCO.ORG</text>
</svg>

</body></html>
